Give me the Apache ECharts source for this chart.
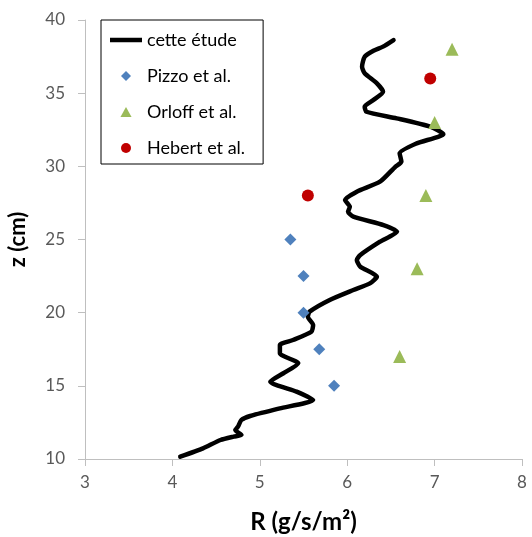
<!DOCTYPE html>
<html>
<head>
<meta charset="utf-8">
<script src="https://cdn.jsdelivr.net/npm/echarts@6/dist/echarts.min.js"></script>
<style>
  html, body { margin: 0; padding: 0; background: #fff; }
  #chart { width: 532px; height: 537px; }
</style>
</head>
<body>
<div id="chart"></div>
<script>
// profil "cette étude" (R, z), du bas vers le haut
const lineR = [4.09, 4.35, 4.55, 4.70, 4.79, 4.72, 4.75, 4.79, 4.89, 5.23, 5.61, 5.42, 5.12, 5.27, 5.44, 5.23, 5.23, 5.38, 5.59, 5.61,
  5.55, 5.57, 5.80, 6.07, 6.26, 6.34, 6.15, 6.11, 6.15, 6.375, 6.57, 6.415, 6.07, 6.01, 6.03, 5.975, 6.11, 6.375, 6.55, 6.62,
  6.60, 6.795, 7.10, 6.95, 6.565, 6.22, 6.20, 6.30, 6.41, 6.34, 6.20, 6.17, 6.20, 6.30, 6.41, 6.53]
const lineZ = [10.16, 10.73, 11.30, 11.53, 11.64, 11.98, 12.21, 12.67, 12.94, 13.46, 14.03, 14.60, 15.28, 15.86, 16.54, 17.22, 17.79, 18.13, 18.70, 19.16,
  19.72, 20.07, 20.87, 21.55, 22.00, 22.46, 23.14, 23.60, 23.94, 24.85, 25.53, 25.99, 26.56, 26.90, 27.24, 27.70, 28.27, 28.95, 29.97, 30.32,
  30.89, 31.57, 32.20, 32.71, 33.28, 33.73, 34.08, 34.53, 35.10, 35.67, 36.36, 36.81, 37.49, 37.90, 38.18, 38.63]

// données de comparaison
const pizzoR = [5.35, 5.5, 5.5, 5.68, 5.85]
const pizzoZ = [25, 22.5, 20, 17.5, 15]
const orloffR = [7.2, 7.0, 6.9, 6.8, 6.6]
const orloffZ = [38, 33, 28, 23, 17]
const hebertR = [6.95, 5.55]
const hebertZ = [36, 28]

const zip = (a, b) => a.map((v, i) => [v, b[i]])

const font = 'Lato, "Open Sans", sans-serif'
const chart = echarts.init(document.getElementById('chart'))

// icônes de légende (gardent leurs proportions dans la case 32x10)
const icons = {
  line: 'path://M0,0 L32,0 L32,4.5 L0,4.5 Z',
  diamond: 'path://M5,0 L10,5 L5,10 L0,5 Z',
  triangle: 'path://M5,0 L10,9 L0,9 Z',
  circle: 'path://M0,5 A5,5 0 1,1 10,5 A5,5 0 1,1 0,5 Z'
}

const option = {
  animation: false,
  backgroundColor: '#fff',
  textStyle: { fontFamily: font },
  grid: { left: 85, right: 10, top: 20, bottom: 78, outerBoundsMode: 'none', containLabel: false },
  legend: {
    orient: 'vertical',
    left: 101,
    top: 20,
    padding: [10, 18, 6, 9],
    itemWidth: 32,
    itemHeight: 10,
    itemGap: 16,
    borderColor: '#000',
    borderWidth: 1,
    symbolKeepAspect: true,
    textStyle: { fontFamily: font, fontSize: 18, color: '#000', lineHeight: 20 },
    data: [
      { name: 'cette étude', icon: icons.line },
      { name: 'Pizzo et al.', icon: icons.diamond },
      { name: 'Orloff et al.', icon: icons.triangle },
      { name: 'Hebert et al.', icon: icons.circle }
    ]
  },
  xAxis: {
    type: 'value',
    min: 3,
    max: 8,
    interval: 1,
    name: 'R (g/s/m²)',
    nameLocation: 'middle',
    nameGap: 51,
    nameTextStyle: { fontFamily: font, fontSize: 24, fontWeight: 'bold', color: '#000' },
    axisLine: { show: true, lineStyle: { color: '#bfbfbf', width: 1 } },
    axisTick: { show: true, length: 7, lineStyle: { color: '#bfbfbf' } },
    axisLabel: { fontFamily: font, fontSize: 17, color: '#595959', margin: 15 },
    splitLine: { show: false }
  },
  yAxis: {
    type: 'value',
    min: 10,
    max: 40,
    interval: 5,
    name: 'z (cm)',
    nameLocation: 'middle',
    nameGap: 56,
    nameTextStyle: { fontFamily: font, fontSize: 22, fontWeight: 'bold', color: '#000' },
    axisLine: { show: true, lineStyle: { color: '#bfbfbf', width: 1 } },
    axisTick: { show: true, length: 7, lineStyle: { color: '#bfbfbf' } },
    axisLabel: { fontFamily: font, fontSize: 17, color: '#595959', margin: 20 },
    splitLine: { show: false }
  },
  series: [
    {
      name: 'cette étude',
      type: 'line',
      data: zip(lineR, lineZ),
      showSymbol: false,
      symbol: 'none',
      smooth: 0.2,
      lineStyle: { color: '#000', width: 4.5, cap: 'round', join: 'round' },
      itemStyle: { color: '#000' },
      z: 1
    },
    {
      name: 'Pizzo et al.',
      type: 'scatter',
      data: zip(pizzoR, pizzoZ),
      symbol: 'diamond',
      symbolSize: 12,
      itemStyle: { color: '#4f81bd', opacity: 1 },
      z: 3
    },
    {
      name: 'Orloff et al.',
      type: 'scatter',
      data: zip(orloffR, orloffZ),
      symbol: 'triangle',
      symbolSize: 13,
      itemStyle: { color: '#9bbb59', opacity: 1 },
      z: 3
    },
    {
      name: 'Hebert et al.',
      type: 'scatter',
      data: zip(hebertR, hebertZ),
      symbol: 'circle',
      symbolSize: 12,
      itemStyle: { color: '#c00000', opacity: 1 },
      z: 3
    }
  ]
}

chart.setOption(option)
</script>
</body>
</html>
